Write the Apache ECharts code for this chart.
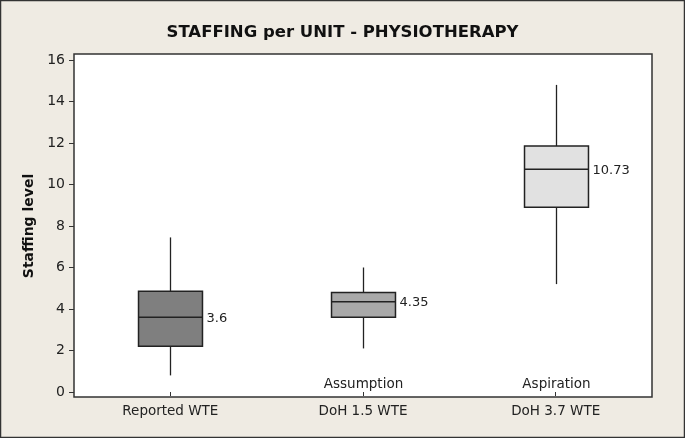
<!DOCTYPE html>
<html><head><meta charset="utf-8">
<script src="https://cdn.jsdelivr.net/npm/echarts@6/dist/echarts.min.js"></script>
<style>html,body{margin:0;padding:0;background:#efebe3}#c{width:685px;height:438px}</style>
</head><body><div id="c"></div>
<script>
const categories = ['Reported WTE', 'DoH 1.5 WTE', 'DoH 3.7 WTE'];
const lowWhisker = [0.8, 2.1, 5.2];
const q1 = [2.2, 3.6, 8.9];
const median = [3.6, 4.35, 10.73];
const q3 = [4.85, 4.8, 11.85];
const highWhisker = [7.45, 6.0, 14.8];
const medianLabels = ['3.6', '4.35', '10.73'];
const notes = ['', 'Assumption', 'Aspiration'];
const yTicks = [0, 2, 4, 6, 8, 10, 12, 14, 16];

const boxFill = ['#7f7f7f', '#a9a9a9', '#e1e1e1'];
const FONT = 'DejaVu Sans';

const data = categories.map((c, i) => [i, lowWhisker[i], q1[i], median[i], q3[i], highWhisker[i]]);

const chart = echarts.init(document.getElementById('c'));
chart.setOption({
  backgroundColor: '#efebe3',
  animation: false,
  title: {
    text: 'STAFFING per UNIT - PHYSIOTHERAPY',
    left: 'center', top: 19,
    textStyle: { fontFamily: FONT, fontWeight: 'bold', fontSize: 16.5, color: '#111' }
  },
  graphic: [{
    type: 'rect', shape: { x: 0.5, y: 0.5, width: 684, height: 437 },
    style: { fill: 'none', stroke: '#333', lineWidth: 1.5 }, silent: true
  }],
  grid: [
    { left: 74, right: 33, top: 54, bottom: 41, show: true, backgroundColor: '#fff', borderColor: '#333', borderWidth: 1.5 },
    { left: 74, right: 33, top: 60, bottom: 46 }
  ],
  xAxis: [
    { gridIndex: 0, type: 'value', show: false, min: 0, max: 1 },
    {
      gridIndex: 1, type: 'category', data: categories, boundaryGap: true, offset: 5,
      axisLine: { show: false },
      axisTick: { show: true, alignWithLabel: true, length: 4, lineStyle: { color: '#333' } },
      axisLabel: { fontFamily: FONT, fontSize: 13.5, color: '#222', margin: 7 }
    }
  ],
  yAxis: [
    { gridIndex: 0, type: 'value', show: false, min: 0, max: 1 },
    {
      gridIndex: 1, type: 'value', min: yTicks[0], max: yTicks[yTicks.length - 1], interval: 2,
      name: 'Staffing level', nameLocation: 'middle', nameGap: 36,
      nameTextStyle: { fontFamily: FONT, fontWeight: 'bold', fontSize: 14, color: '#111' },
      axisLine: { show: false },
      axisTick: { show: true, length: 5, lineStyle: { color: '#333' } },
      splitLine: { show: false },
      axisLabel: { fontFamily: FONT, fontSize: 14, color: '#222', margin: 9 }
    }
  ],
  series: [{
    type: 'custom',
    xAxisIndex: 1, yAxisIndex: 1,
    data: data,
    renderItem: function (params, api) {
      const i = api.value(0);
      const pLo = api.coord([i, api.value(1)]);
      const pQ1 = api.coord([i, api.value(2)]);
      const pMed = api.coord([i, api.value(3)]);
      const pQ3 = api.coord([i, api.value(4)]);
      const pHi = api.coord([i, api.value(5)]);
      const pZero = api.coord([i, 0]);
      const w = api.size([1, 0])[0] * 0.332;
      const x = Math.round(pMed[0]) + 0.5;
      const lineStyle = { stroke: '#222', lineWidth: 1.3 };
      const children = [
        { type: 'line', shape: { x1: x, y1: pQ3[1], x2: x, y2: pHi[1] }, style: lineStyle },
        { type: 'line', shape: { x1: x, y1: pQ1[1], x2: x, y2: pLo[1] }, style: lineStyle },
        { type: 'rect', shape: { x: x - w / 2, y: pQ3[1], width: w, height: pQ1[1] - pQ3[1] },
          style: { fill: boxFill[i], stroke: '#222', lineWidth: 1.5 } },
        { type: 'line', shape: { x1: x - w / 2, y1: pMed[1], x2: x + w / 2, y2: pMed[1] }, style: { stroke: '#222', lineWidth: 1.5 } },
        { type: 'text', x: x + w / 2 + 4, y: pMed[1] + 1,
          style: { text: medianLabels[i], fontFamily: FONT, fontSize: 13, fill: '#222', textAlign: 'left', textVerticalAlign: 'middle' } }
      ];
      if (notes[i]) {
        children.push({ type: 'text', x: x, y: pZero[1] - 8,
          style: { text: notes[i], fontFamily: FONT, fontSize: 13.5, fill: '#222', textAlign: 'center', textVerticalAlign: 'middle' } });
      }
      return { type: 'group', children: children };
    }
  }]
});
</script></body></html>
